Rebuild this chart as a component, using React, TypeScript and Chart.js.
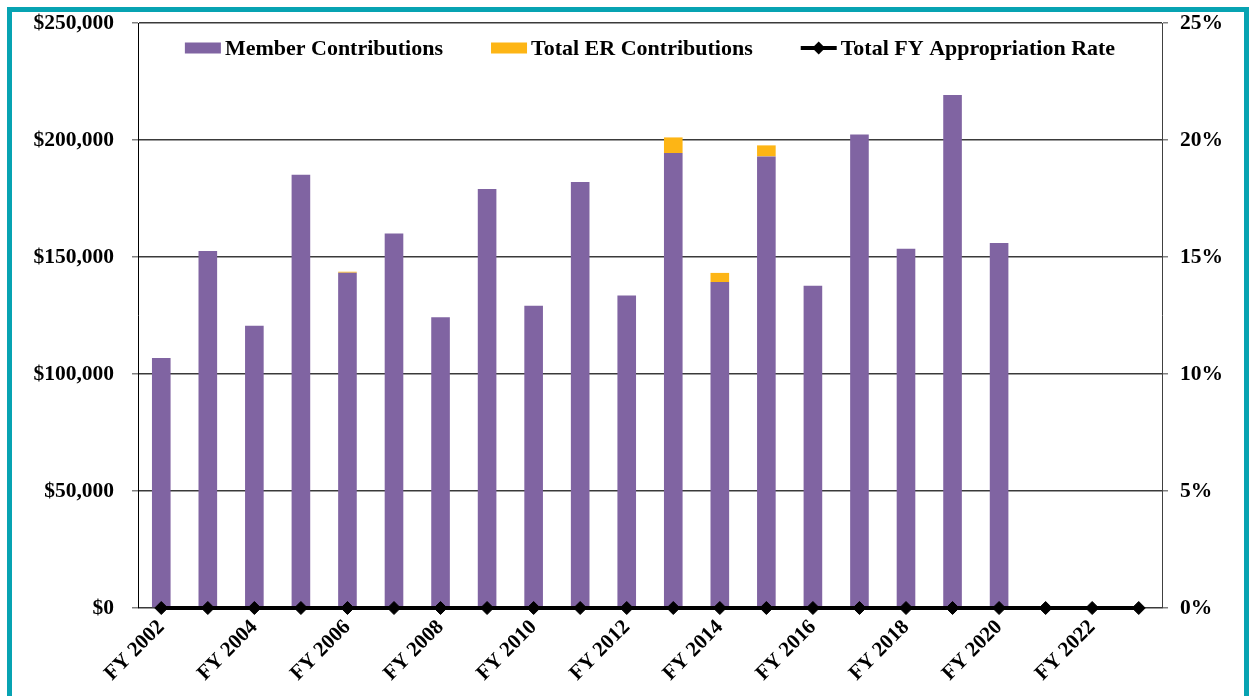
import React, { useEffect, useRef } from "react";
import { Chart, registerables } from "chart.js";

Chart.register(...registerables);

const categories = [
  "FY 2002", "FY 2003", "FY 2004", "FY 2005", "FY 2006", "FY 2007", "FY 2008",
  "FY 2009", "FY 2010", "FY 2011", "FY 2012", "FY 2013", "FY 2014", "FY 2015",
  "FY 2016", "FY 2017", "FY 2018", "FY 2019", "FY 2020", "FY 2021", "FY 2022", "FY 2023",
];

const memberContributions = [
  106800, 152600, 120600, 185200, 143300, 160000, 124200, 179100, 129200, 182100,
  133500, 194400, 139300, 193000, 137700, 202300, 153500, 219200, 156000, null, null, null,
];

const erContributions = [
  0, 0, 0, 0, 400, 0, 0, 0, 0, 0, 0, 6700, 3900, 4700, 0, 0, 0, 0, 0, null, null, null,
];

const appropriationRate = [
  0, 0, 0, 0, 0, 0, 0, 0, 0, 0, 0, 0, 0, 0, 0, 0, 0, 0, 0, 0, 0, 0,
];

const FONT = "'Liberation Serif', 'Times New Roman', serif";

const innerLegend = {
  id: "innerLegend",
  afterDraw(chart: any) {
    const { ctx, chartArea } = chart;
    const ds = chart.data.datasets;
    ctx.save();
    ctx.font = `bold 22px ${FONT}`;
    const markerW = 36;
    const gapText = 4;
    const gapItem = 48;
    const widths = ds.map((d: any) => ctx.measureText(d.label).width);
    const total =
      widths.reduce((a: number, w: number) => a + markerW + gapText + w, 0) +
      gapItem * (ds.length - 1);
    let x = (chartArea.left + chartArea.right) / 2 - total / 2;
    const y = 48;
    ds.forEach((d: any, i: number) => {
      if (d.type === "line") {
        ctx.strokeStyle = d.borderColor;
        ctx.lineWidth = 4;
        ctx.beginPath();
        ctx.moveTo(x, y);
        ctx.lineTo(x + markerW, y);
        ctx.stroke();
        const cx = x + markerW / 2;
        const r = 6.5;
        ctx.fillStyle = d.pointBackgroundColor;
        ctx.beginPath();
        ctx.moveTo(cx - r, y);
        ctx.lineTo(cx, y - r);
        ctx.lineTo(cx + r, y);
        ctx.lineTo(cx, y + r);
        ctx.closePath();
        ctx.fill();
      } else {
        ctx.fillStyle = d.backgroundColor;
        ctx.fillRect(x, y - 5.5, markerW, 11);
      }
      ctx.fillStyle = "#000";
      ctx.textBaseline = "middle";
      ctx.textAlign = "left";
      ctx.fillText(d.label, x + markerW + gapText, y + 1);
      x += markerW + gapText + widths[i] + gapItem;
    });
    ctx.restore();
  },
};

const zeroPad = (s: any) => {
  s.paddingTop = 0;
  s.paddingBottom = 0;
  s.paddingLeft = 0;
  s.paddingRight = 0;
};

export default function App() {
  const ref = useRef<HTMLCanvasElement>(null);

  useEffect(() => {
    if (!ref.current) return;
    const chart = new Chart(ref.current, {
      type: "bar",
      data: {
        labels: categories,
        datasets: [
          {
            type: "bar",
            label: "Member Contributions",
            data: memberContributions,
            backgroundColor: "#8064A2",
            yAxisID: "y",
            order: 2,
            barPercentage: 0.4,
            categoryPercentage: 1,
          },
          {
            type: "bar",
            label: "Total ER Contributions",
            data: erContributions,
            backgroundColor: "#FDB515",
            yAxisID: "y",
            order: 2,
            barPercentage: 0.4,
            categoryPercentage: 1,
          },
          {
            type: "line",
            label: "Total FY Appropriation Rate",
            data: appropriationRate,
            borderColor: "#000",
            backgroundColor: "#000",
            borderWidth: 4,
            pointStyle: "rectRot",
            pointRadius: 6.5,
            pointBackgroundColor: "#000",
            pointBorderColor: "#000",
            pointBorderWidth: 1,
            yAxisID: "y1",
            order: 0,
            clip: false,
          } as any,
        ],
      },
      options: {
        animation: false,
        responsive: false,
        layout: { padding: { left: 0, right: 0, top: 23, bottom: 0 } },
        plugins: {
          legend: { display: false },
          tooltip: { enabled: false },
          title: { display: false },
        },
        scales: {
          x: {
            stacked: true,
            grid: { display: false, drawTicks: false },
            border: { display: false },
            ticks: {
              autoSkip: false,
              minRotation: 45,
              maxRotation: 45,
              padding: 7,
              color: "#000",
              font: { family: FONT, size: 21, weight: "bold" },
              callback: (_v: any, i: number) => (i % 2 === 0 ? categories[i] : ""),
            },
            afterFit: (s: any) => {
              s.height = 88;
              zeroPad(s);
            },
          },
          y: {
            stacked: true,
            position: "left",
            min: 0,
            max: 250000,
            ticks: {
              stepSize: 50000,
              padding: 18,
              color: "#000",
              font: { family: FONT, size: 21.5, weight: "bold" },
              callback: (v: any) => "$" + Number(v).toLocaleString("en-US"),
            },
            grid: {
              color: "#3a3a3a",
              lineWidth: 1.5,
              tickLength: 6,
              tickColor: "#808080",
              tickWidth: 1.5,
            },
            border: { display: true, color: "#000", width: 1 },
            afterFit: (s: any) => {
              s.width = 138;
              zeroPad(s);
            },
          },
          y1: {
            position: "right",
            min: 0,
            max: 0.25,
            ticks: {
              stepSize: 0.05,
              padding: 12,
              color: "#000",
              font: { family: FONT, size: 21.5, weight: "bold" },
              callback: (v: any) => Math.round(Number(v) * 100) + "%",
            },
            grid: {
              drawOnChartArea: false,
              tickLength: 6,
              color: "#808080",
              lineWidth: 1.5,
            },
            border: { display: true, color: "#404040", width: 1 },
            afterFit: (s: any) => {
              s.width = 87;
              zeroPad(s);
            },
          },
        },
      },
      plugins: [innerLegend],
    });
    return () => chart.destroy();
  }, []);

  return (
    <div
      style={{
        position: "fixed",
        left: 0,
        top: 0,
        width: 1249,
        height: 696,
        overflow: "hidden",
        background: "#fff",
      }}
    >
      <div
        style={{
          position: "absolute",
          left: 7,
          top: 7,
          width: 1242,
          height: 800,
          boxSizing: "border-box",
          border: "5px solid #07A3B2",
        }}
      />
      <canvas
        ref={ref}
        width={1249}
        height={696}
        style={{ position: "absolute", left: 0, top: 0 }}
      />
    </div>
  );
}
